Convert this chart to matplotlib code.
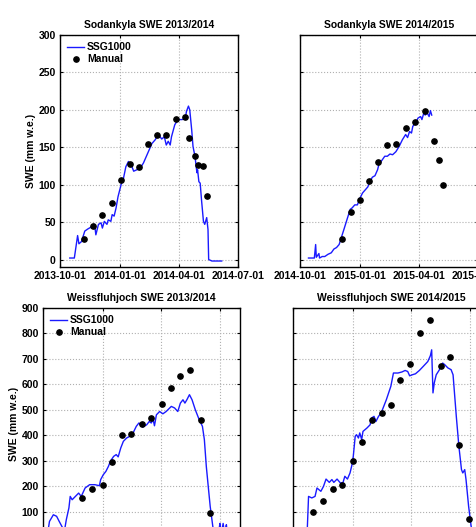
import matplotlib
matplotlib.use("Agg")
import matplotlib.pyplot as plt
import matplotlib.dates as mdates
import pandas as pd

plt.rcParams['font.family'] = ['Liberation Sans', 'DejaVu Sans']
plt.rcParams['font.weight'] = 'bold'

# ---------------- Sodankyla 2013/2014 ----------------
sod13_dates = ["2013-10-16", "2013-10-23", "2013-10-28", "2013-10-30", "2013-11-03", "2013-11-08",
               "2013-11-13", "2013-11-19", "2013-11-23", "2013-11-25", "2013-11-29", "2013-12-03",
               "2013-12-05", "2013-12-08", "2013-12-12", "2013-12-14", "2013-12-18", "2013-12-20",
               "2013-12-23", "2013-12-26", "2013-12-29", "2014-01-03", "2014-01-06", "2014-01-10",
               "2014-01-14", "2014-01-18", "2014-01-22", "2014-01-27", "2014-02-01", "2014-02-06",
               "2014-02-11", "2014-02-16", "2014-02-19", "2014-02-24", "2014-03-01", "2014-03-06",
               "2014-03-10", "2014-03-13", "2014-03-16", "2014-03-19", "2014-03-21", "2014-03-26",
               "2014-03-31", "2014-04-06", "2014-04-11", "2014-04-13", "2014-04-16", "2014-04-18",
               "2014-04-21", "2014-04-23", "2014-04-26", "2014-04-29", "2014-04-30", "2014-05-02",
               "2014-05-04", "2014-05-06", "2014-05-09", "2014-05-11", "2014-05-14", "2014-05-16",
               "2014-05-17", "2014-05-22", "2014-06-06"]
sod13_swe = [2, 2, 32, 21, 24, 38, 41, 44, 47, 33, 47, 49, 42, 51, 47, 53, 51, 60, 58, 69, 84,
             101, 107, 124, 131, 127, 118, 120, 122, 129, 139, 149, 155, 160, 167, 161, 164, 153,
             158, 153, 164, 180, 187, 187, 188, 198, 205, 200, 173, 151, 138, 116, 120, 104, 102,
             80, 51, 47, 56, 40, 0, -2, -2]
sod13_man_dates = ["2013-11-07", "2013-11-21", "2013-12-05", "2013-12-19", "2014-01-03", "2014-01-16",
                   "2014-01-30", "2014-02-13", "2014-02-27", "2014-03-13", "2014-03-28", "2014-04-10",
                   "2014-04-17", "2014-04-26", "2014-04-30", "2014-05-08", "2014-05-15"]
sod13_man = [27, 45, 60, 76, 106, 127, 123, 155, 166, 166, 188, 191, 163, 138, 126, 125, 85]

# ---------------- Sodankyla 2014/2015 ----------------
sod14_dates = ["2014-10-14", "2014-10-23", "2014-10-25", "2014-10-26", "2014-10-30", "2014-10-31",
               "2014-11-04", "2014-11-08", "2014-11-13", "2014-11-18", "2014-11-22", "2014-11-26",
               "2014-11-30", "2014-12-04", "2014-12-08", "2014-12-13", "2014-12-17", "2014-12-20",
               "2014-12-24", "2014-12-28", "2015-01-01", "2015-01-05", "2015-01-09", "2015-01-13",
               "2015-01-16", "2015-01-20", "2015-01-24", "2015-01-28", "2015-01-30", "2015-02-04",
               "2015-02-08", "2015-02-12", "2015-02-16", "2015-02-20", "2015-02-25", "2015-03-02",
               "2015-03-07", "2015-03-12", "2015-03-15", "2015-03-18", "2015-03-21", "2015-03-23",
               "2015-03-27", "2015-03-31", "2015-04-04", "2015-04-06", "2015-04-09", "2015-04-11",
               "2015-04-14", "2015-04-17", "2015-04-19", "2015-04-21"]
sod14_swe = [2, 2, 20, 3, 8, 2, 4, 4, 7, 9, 14, 16, 20, 31, 42, 56, 67, 69, 73, 73, 82, 89, 93, 97,
             104, 110, 112, 120, 127, 133, 138, 138, 141, 140, 144, 151, 160, 167, 163, 171, 169,
             178, 182, 189, 191, 187, 196, 193, 196, 191, 199, 193]
sod14_man_dates = ["2014-12-04", "2014-12-18", "2015-01-01", "2015-01-15", "2015-01-29", "2015-02-12",
                   "2015-02-26", "2015-03-13", "2015-03-27", "2015-04-10", "2015-04-25", "2015-05-02",
                   "2015-05-09"]
sod14_man = [28, 64, 80, 105, 130, 153, 155, 176, 184, 199, 159, 133, 99]

# ---------------- Weissfluhjoch 2013/2014 ----------------
wfj13_dates = ["2013-10-09", "2013-10-11", "2013-10-17", "2013-10-22", "2013-10-26", "2013-10-30",
               "2013-11-03", "2013-11-06", "2013-11-10", "2013-11-12", "2013-11-15", "2013-11-20",
               "2013-11-25", "2013-11-29", "2013-12-05", "2013-12-12", "2013-12-20", "2013-12-27",
               "2013-12-29", "2014-01-02", "2014-01-06", "2014-01-10", "2014-01-13", "2014-01-18",
               "2014-01-22", "2014-01-25", "2014-01-29", "2014-02-02", "2014-02-07", "2014-02-12",
               "2014-02-17", "2014-02-22", "2014-02-26", "2014-03-04", "2014-03-10", "2014-03-14",
               "2014-03-17", "2014-03-20", "2014-03-22", "2014-03-25", "2014-03-30", "2014-04-04",
               "2014-04-09", "2014-04-17", "2014-04-22", "2014-04-27", "2014-05-01", "2014-05-05",
               "2014-05-08", "2014-05-11", "2014-05-15", "2014-05-19", "2014-05-24", "2014-05-30",
               "2014-06-04", "2014-06-07", "2014-06-10", "2014-06-13", "2014-06-16", "2014-06-20",
               "2014-06-23", "2014-06-28", "2014-07-01", "2014-07-03", "2014-07-06", "2014-07-08",
               "2014-07-11", "2014-07-13"]
wfj13_swe = [30, 63, 89, 83, 63, 44, 25, 70, 116, 161, 148, 161, 174, 161, 194, 207, 207, 203,
             227, 246, 259, 279, 299, 318, 325, 316, 351, 377, 390, 397, 410, 436, 449, 433, 442,
             455, 449, 462, 438, 481, 494, 485, 494, 514, 508, 494, 527, 540, 527, 540, 560, 540,
             501, 462, 436, 384, 279, 200, 122, 44, 0, 0, 55, 15, 55, 15, 50, 0]
wfj13_man_dates = ["2013-11-30", "2013-12-16", "2014-01-02", "2014-01-16", "2014-01-31", "2014-02-14",
                   "2014-03-02", "2014-03-17", "2014-04-02", "2014-04-17", "2014-05-01", "2014-05-16",
                   "2014-06-02", "2014-06-16"]
wfj13_man = [156, 190, 207, 296, 402, 406, 446, 468, 525, 585, 633, 658, 459, 96]

# ---------------- Weissfluhjoch 2014/2015 ----------------
wfj14_dates = ["2014-10-15", "2014-10-22", "2014-10-23", "2014-10-25", "2014-10-30", "2014-11-04",
               "2014-11-07", "2014-11-13", "2014-11-17", "2014-11-21", "2014-11-26", "2014-11-30",
               "2014-12-03", "2014-12-08", "2014-12-13", "2014-12-17", "2014-12-20", "2014-12-24",
               "2014-12-28", "2014-12-31", "2015-01-02", "2015-01-05", "2015-01-07", "2015-01-10",
               "2015-01-12", "2015-01-15", "2015-01-17", "2015-01-23", "2015-01-28", "2015-01-30",
               "2015-02-03", "2015-02-06", "2015-02-10", "2015-02-14", "2015-02-22", "2015-03-01",
               "2015-03-05", "2015-03-12", "2015-03-18", "2015-03-23", "2015-03-27", "2015-03-30",
               "2015-04-03", "2015-04-08", "2015-04-14", "2015-04-20", "2015-04-27", "2015-05-01",
               "2015-05-03", "2015-05-05", "2015-05-07", "2015-05-10", "2015-05-15", "2015-05-17",
               "2015-05-20", "2015-05-23", "2015-05-28", "2015-06-02", "2015-06-05", "2015-06-10",
               "2015-06-14", "2015-06-18", "2015-06-20", "2015-06-23", "2015-06-25", "2015-06-29",
               "2015-07-03", "2015-07-08"]
wfj14_swe = [0, 10, 30, 161, 155, 161, 194, 181, 200, 229, 216, 227, 216, 229, 214, 214, 240, 229,
             253, 285, 318, 397, 403, 390, 410, 384, 416, 429, 442, 468, 475, 455, 475, 488, 540,
             593, 645, 645, 649, 655, 651, 634, 638, 642, 655, 671, 690, 713, 736, 567, 606, 638,
             658, 671, 684, 678, 665, 658, 638, 475, 357, 266, 253, 266, 227, 122, 42, 0]
wfj14_man_dates = ["2014-11-01", "2014-11-16", "2014-12-02", "2014-12-16", "2015-01-01", "2015-01-15",
                   "2015-01-31", "2015-02-15", "2015-03-01", "2015-03-15", "2015-03-31", "2015-04-15",
                   "2015-05-01", "2015-05-18", "2015-05-31", "2015-06-14", "2015-06-30"]
wfj14_man = [98, 142, 190, 207, 301, 374, 462, 488, 521, 616, 679, 802, 853, 672, 706, 363, 74]

titles = ["Sodankyla SWE 2013/2014", "Sodankyla SWE 2014/2015",
          "Weissfluhjoch SWE 2013/2014", "Weissfluhjoch SWE 2014/2015"]
xlims = [("2013-10-01", "2014-07-01"), ("2014-10-01", "2015-07-01"),
         ("2013-10-01", "2014-08-01"), ("2014-10-01", "2015-08-01")]
xtick_sets = [["2013-10-01", "2014-01-01", "2014-04-01", "2014-07-01"],
              ["2014-10-01", "2015-01-01", "2015-04-01", "2015-07-01"],
              ["2013-10-01", "2014-01-01", "2014-04-01", "2014-07-01"],
              ["2014-10-01", "2015-01-01", "2015-04-01", "2015-07-01"]]
ylims = [(-10, 300), (-10, 300), (-10, 900), (-10, 900)]
yticks_top = [0, 50, 100, 150, 200, 250, 300]
yticks_bot = [0, 100, 200, 300, 400, 500, 600, 700, 800, 900]

W, H = 476, 527
fig = plt.figure(figsize=(W / 100, H / 100), dpi=100)

def px_rect(left, top, width, height):
    return [left / W, 1 - (top + height) / H, width / W, height / H]

rects = [px_rect(60, 35, 178, 232), px_rect(300, 35, 178, 232),
         px_rect(43, 308, 197, 232), px_rect(293, 308, 197, 232)]

series = [(sod13_dates, sod13_swe, sod13_man_dates, sod13_man),
          (sod14_dates, sod14_swe, sod14_man_dates, sod14_man),
          (wfj13_dates, wfj13_swe, wfj13_man_dates, wfj13_man),
          (wfj14_dates, wfj14_swe, wfj14_man_dates, wfj14_man)]

fs = 7.5
for i, (rect, (ld, lv, md, mv)) in enumerate(zip(rects, series)):
    ax = fig.add_axes(rect)
    ax.plot(pd.to_datetime(ld), lv, color='#1a1aff', lw=1.0, label='SSG1000')
    ax.plot(pd.to_datetime(md), mv, 'o', color='black', ms=3.8, label='Manual')
    ax.set_xlim(pd.to_datetime(xlims[i][0]), pd.to_datetime(xlims[i][1]))
    ax.set_ylim(*ylims[i])
    ax.set_xticks(pd.to_datetime(xtick_sets[i]))
    ax.xaxis.set_major_formatter(mdates.DateFormatter('%Y-%m-%d'))
    ax.set_yticks(yticks_top if i < 2 else yticks_bot)
    ax.grid(True, linestyle=':', color='#b0b0b0', linewidth=0.8)
    ax.tick_params(direction='in', length=2.5, width=0.8, labelsize=fs, pad=3,
                   top=True, right=True)
    for lab in ax.get_xticklabels() + ax.get_yticklabels():
        lab.set_fontweight('bold')
    for sp in ax.spines.values():
        sp.set_linewidth(1.0)
    ax.set_title(titles[i], fontsize=fs, fontweight='bold', pad=5)
    if i % 2 == 0:
        ax.set_ylabel('SWE (mm w.e.)', fontsize=fs, fontweight='bold', labelpad=2)
        ax.legend(loc='upper left', frameon=False, fontsize=fs, handlelength=1.6,
                  handletextpad=0.3, borderaxespad=0.3, labelspacing=0.2,
                  prop={'weight': 'bold', 'size': fs})
    else:
        ax.set_yticklabels([])

fig.savefig('out.png', dpi=100)
